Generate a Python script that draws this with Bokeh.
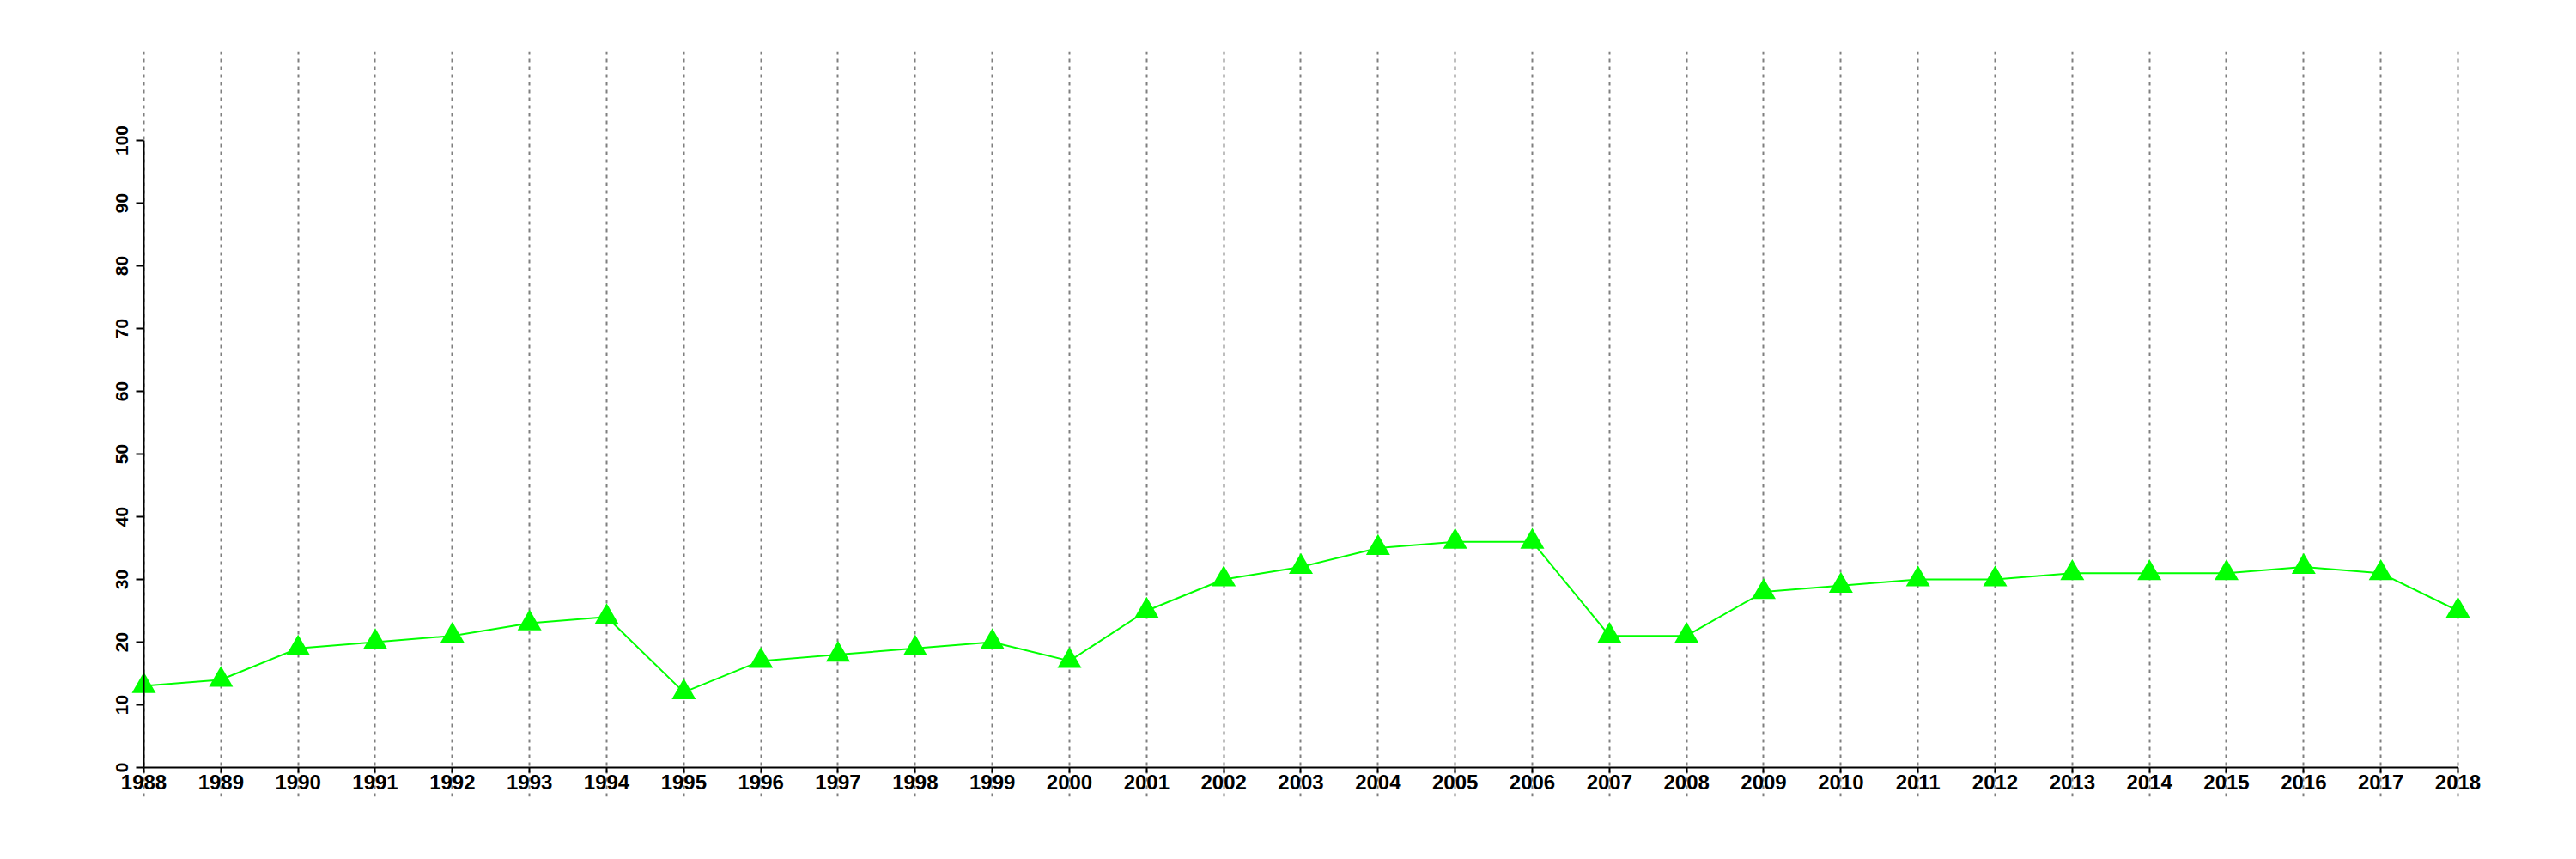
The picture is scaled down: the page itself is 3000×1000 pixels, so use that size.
from bokeh.plotting import figure
from bokeh.models import Range1d, FixedTicker, ColumnDataSource
from bokeh.embed import file_html
from bokeh.resources import INLINE

years = list(range(1988, 2019))
values = [13, 14, 19, 20, 21, 23, 24, 12, 17, 18, 19, 20, 17, 25, 30, 32,
          35, 36, 36, 21, 21, 28, 29, 30, 30, 31, 31, 31, 32, 31, 25]
y_ticks = [0, 10, 20, 30, 40, 50, 60, 70, 80, 90, 100]

src = ColumnDataSource(data=dict(year=years, value=values))

p = figure(width=2984, height=984, output_backend="svg", toolbar_location=None,
           x_range=Range1d(1987.3655, 2018.9796), y_range=Range1d(-4.658, 114.247),
           min_border_left=110, min_border_right=34, min_border_top=59, min_border_bottom=57)
p.outline_line_color = None
p.background_fill_color = "white"

p.line("year", "value", source=src, line_color="#00FF00", line_width=2)
p.scatter("year", "value", source=src, marker="triangle", size=28,
          fill_color="#00FF00", line_color="#00FF00", line_width=0)

font = "Liberation Sans"
for ax in (p.xaxis[0], p.yaxis[0]):
    ax.axis_line_color = "black"
    ax.axis_line_width = 2
    ax.major_tick_line_color = "black"
    ax.major_tick_line_width = 2
    ax.major_tick_in = 0
    ax.minor_tick_line_color = None
    ax.major_label_text_font = font
    ax.major_label_text_font_style = "bold"
    ax.major_label_text_color = "black"

p.xaxis[0].ticker = FixedTicker(ticks=years)
p.xaxis[0].bounds = (1988, 2018)
p.xaxis[0].fixed_location = 0
p.xaxis[0].major_tick_out = 6
p.xaxis[0].major_label_standoff = 3
p.xaxis[0].major_label_text_font_size = "24px"

p.yaxis[0].ticker = FixedTicker(ticks=y_ticks)
p.yaxis[0].bounds = (0, 100)
p.yaxis[0].fixed_location = 1988
p.yaxis[0].major_tick_out = 9
p.yaxis[0].major_label_orientation = "vertical"
p.yaxis[0].major_label_standoff = 9
p.yaxis[0].major_label_text_font_size = "21px"

p.xgrid[0].ticker = FixedTicker(ticks=years)
p.xgrid[0].grid_line_color = "#7F7F7F"
p.xgrid[0].grid_line_width = 2
p.xgrid[0].grid_line_dash = "4 5"
p.ygrid[0].grid_line_color = None

open("out.html", "w").write(file_html(p, INLINE))
